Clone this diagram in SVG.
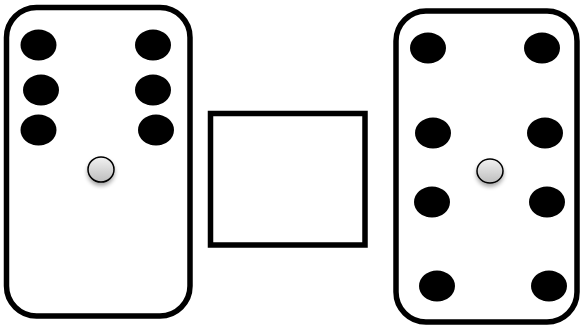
<svg xmlns="http://www.w3.org/2000/svg" width="580" height="325" viewBox="0 0 580 325">
<defs>
<style>
.card{fill:#fff;stroke:#000;stroke-width:5.5}
.dot{fill:#000}
.pip{fill:url(#g);stroke:#000;stroke-width:1.5;filter:url(#sh)}
</style>
<linearGradient id="g" x1="0" y1="0" x2="0" y2="1">
<stop offset="0" stop-color="#f2f2f2"/>
<stop offset="1" stop-color="#bdbdbd"/>
</linearGradient>
<filter id="sh" x="-50%" y="-50%" width="200%" height="220%">
<feGaussianBlur in="SourceAlpha" stdDeviation="2"/>
<feOffset dx="0" dy="3" result="b"/>
<feComponentTransfer><feFuncA type="linear" slope="0.35"/></feComponentTransfer>
<feMerge><feMergeNode/><feMergeNode in="SourceGraphic"/></feMerge>
</filter>
</defs>
<rect width="580" height="325" fill="#fff"/>
<g id="left-card">
<rect class="card" x="6.5" y="7.5" width="183.5" height="308.5" rx="30"/>
<ellipse class="dot" cx="38.5" cy="45" rx="18" ry="15.5"/>
<ellipse class="dot" cx="153" cy="45" rx="18" ry="15.5"/>
<ellipse class="dot" cx="41" cy="90" rx="18" ry="15.5"/>
<ellipse class="dot" cx="153" cy="90" rx="18" ry="15.5"/>
<ellipse class="dot" cx="38.5" cy="130" rx="18" ry="15.5"/>
<ellipse class="dot" cx="156" cy="130" rx="18" ry="15.5"/>
<ellipse class="pip" cx="101" cy="169.5" rx="13" ry="12.5"/>
</g>
<g id="middle-box">
<rect class="card" x="210.5" y="113.5" width="154.5" height="131.5"/>
</g>
<g id="right-card">
<rect class="card" x="396" y="11" width="181" height="311" rx="30"/>
<ellipse class="dot" cx="428" cy="48" rx="18" ry="15.5"/>
<ellipse class="dot" cx="542" cy="48" rx="18" ry="15.5"/>
<ellipse class="dot" cx="433" cy="133" rx="18" ry="15.5"/>
<ellipse class="dot" cx="545" cy="133" rx="18" ry="15.5"/>
<ellipse class="dot" cx="432" cy="202" rx="18" ry="15.5"/>
<ellipse class="dot" cx="547" cy="202" rx="18" ry="15.5"/>
<ellipse class="dot" cx="437" cy="286" rx="18" ry="15.5"/>
<ellipse class="dot" cx="549" cy="286" rx="18" ry="15.5"/>
<ellipse class="pip" cx="490" cy="171" rx="13" ry="12"/>
</g>
<g id="connectors"/>
</svg>
